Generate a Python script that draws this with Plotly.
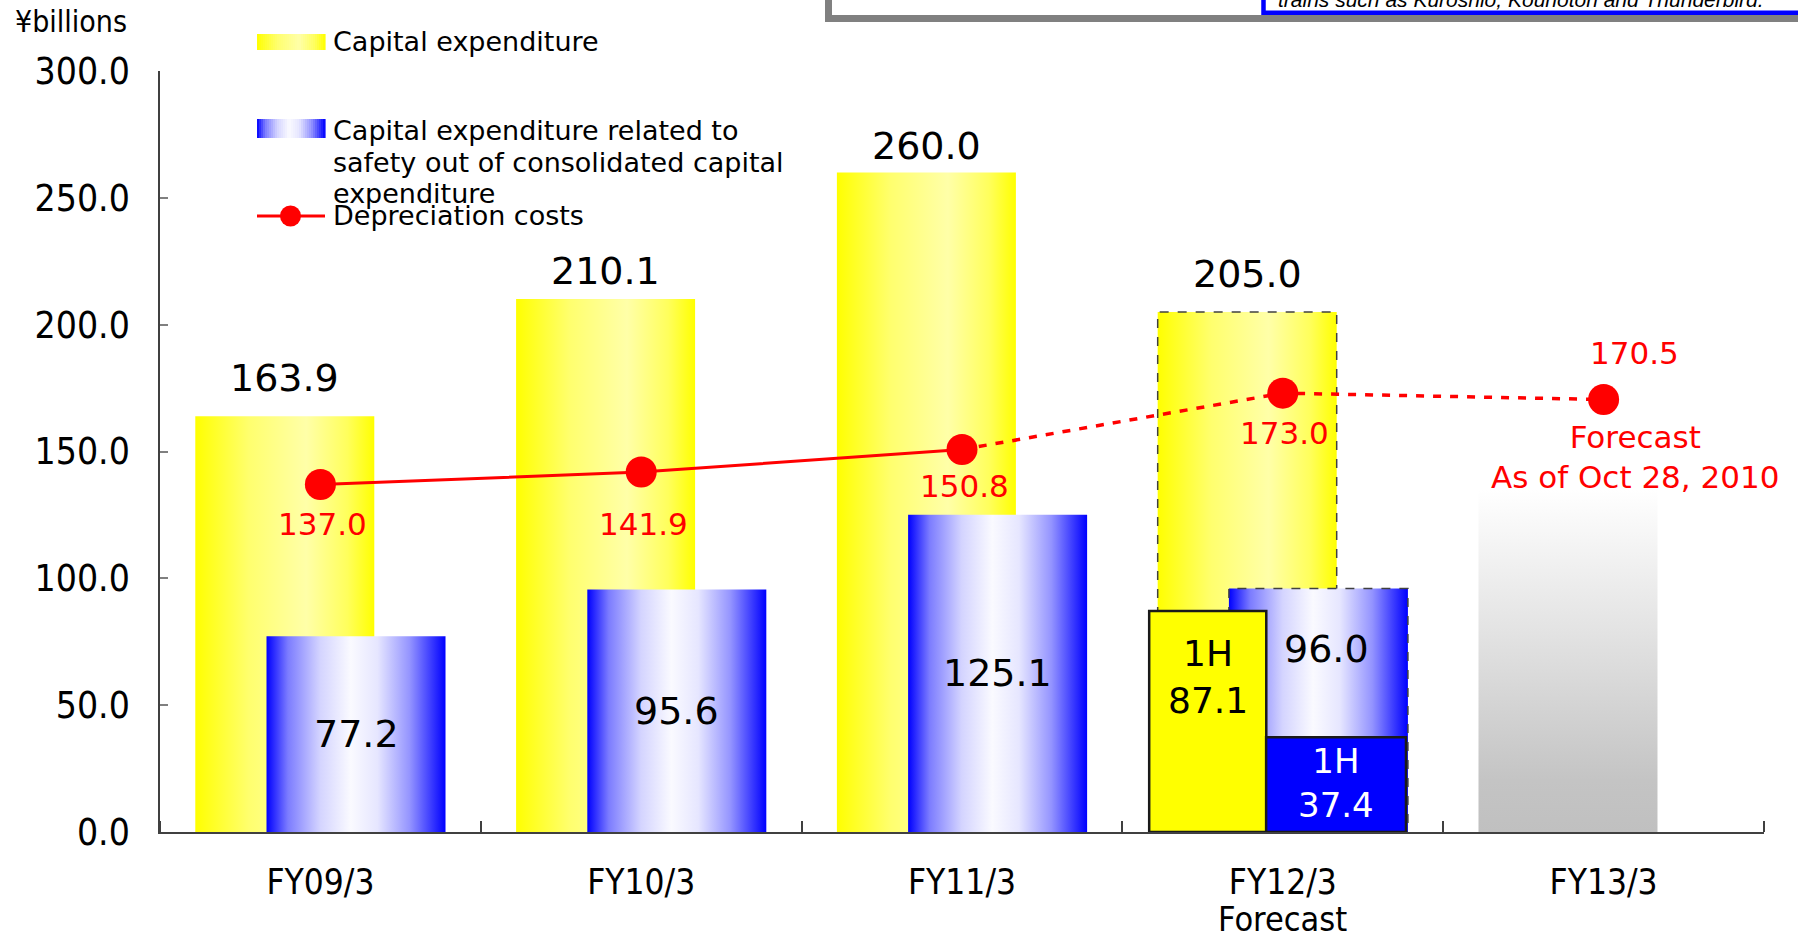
import plotly.graph_objects as go

# ---- data (¥ billions) ----
categories = ["FY09/3", "FY10/3", "FY11/3", "FY12/3", "FY13/3"]
capex = [163.9, 210.1, 260.0, 205.0]
capex_is_forecast = [False, False, False, True]
safety_capex = [77.2, 95.6, 125.1, 96.0]
depreciation = [137.0, 141.9, 150.8, 173.0, 170.5]
capex_1h = 87.1
safety_capex_1h = 37.4
fy13_capex_placeholder = 135.0
y_ticks = [0, 50, 100, 150, 200, 250, 300]

# ---- page geometry ----
W, H = 1798, 938
ML, MR, MT, MB = 160, 34, 71, 106
PW, PH = W - ML - MR, H - MT - MB


def px_x(x):
    return (x - ML) / PW


def px_y(y):
    return (H - MB - y) / PH


BAR_W = 0.558      # bar width in category units
BAR_OFF = 0.111    # yellow / blue offset from the category centre

YELLOW_GRAD = [[0, "#FFFF00"], [0.3, "#FFFF6E"], [0.62, "#FFFFA8"], [0.85, "#FFFF5C"], [1, "#FFFF00"]]
BLUE_GRAD = [[0, "#0000FF"], [0.12, "#7C7CFF"], [0.3, "#D4D4FF"], [0.47, "#FAFAFF"],
             [0.62, "#E6E6FF"], [0.8, "#9494FF"], [1, "#0000FF"]]
GRAY_GRAD = [[0, "#C0C0C0"], [0.15, "#C4C4C4"], [0.6, "#E4E4E4"], [1, "#FFFFFF"]]

VAL_FONT = "DejaVu Sans"
AX_FONT = "DejaVu Sans Condensed, DejaVu Sans"
RED_FONT = "DejaVu Sans"

fig = go.Figure()


def rect(x0, x1, y0, y1):
    return [x0, x0, x1, x1, x0], [y0, y1, y1, y0, y0]


def add_box(xc, width, top, fill=None, gradient=None, line=None):
    xs, ys = rect(xc - width / 2, xc + width / 2, 0, top)
    kw = dict(fillgradient=gradient) if gradient else dict(fillcolor=fill)
    fig.add_trace(go.Scatter(
        x=xs, y=ys, mode="lines", fill="toself",
        line=line or dict(width=0, color="rgba(0,0,0,0)"),
        hoverinfo="skip", showlegend=False, **kw))


dash_line = dict(color="#404040", width=1.5, dash="dash")

# capital expenditure
for i, v in enumerate(capex):
    add_box(i - BAR_OFF, BAR_W, v,
            gradient=dict(type="horizontal", colorscale=YELLOW_GRAD),
            line=dash_line if capex_is_forecast[i] else None)
# FY13 column (no figure yet)
add_box(4 - BAR_OFF, BAR_W, fy13_capex_placeholder,
        gradient=dict(type="vertical", colorscale=GRAY_GRAD))

# safety-related capital expenditure
for i, v in enumerate(safety_capex):
    add_box(i + BAR_OFF, BAR_W, v,
            gradient=dict(type="horizontal", colorscale=BLUE_GRAD),
            line=dash_line if capex_is_forecast[i] else None)

# first-half results for FY12/3
solid_edge = dict(color="#1A1A1A", width=2.5)
add_box(3 - 0.234, 0.365, capex_1h, fill="#FFFF00", line=solid_edge)
add_box(3 + 0.166, 0.436, safety_capex_1h, fill="#0000FF", line=solid_edge)

# depreciation costs: actuals solid, outlook dotted
RED = "#FF0000"
fig.add_trace(go.Scatter(x=[0, 1, 2], y=depreciation[:3], mode="lines",
                         line=dict(color=RED, width=3), hoverinfo="skip", showlegend=False))
fig.add_trace(go.Scatter(x=[2, 3, 4], y=depreciation[2:], mode="lines",
                         line=dict(color=RED, width=3.5, dash="8px,9px"),
                         hoverinfo="skip", showlegend=False))
fig.add_trace(go.Scatter(x=list(range(5)), y=depreciation, mode="markers",
                         marker=dict(color=RED, size=31), hoverinfo="skip", showlegend=False))

ann = []
VAL_SIZE = 38

# labels on the bars
capex_label_shift = [38, 28, 26, 38]
for i, v in enumerate(capex):
    ann.append(dict(x=i - BAR_OFF, y=v, xref="x", yref="y", text=f"{v:.1f}",
                    showarrow=False, yshift=capex_label_shift[i],
                    font=dict(family=VAL_FONT, size=VAL_SIZE, color="black")))
for i, v in enumerate(safety_capex):
    if capex_is_forecast[i]:
        ann.append(dict(x=i + BAR_OFF, y=v, xref="x", yref="y", text=f"{v:.1f}",
                        showarrow=False, yshift=-61, xshift=8,
                        font=dict(family=VAL_FONT, size=VAL_SIZE, color="black")))
    else:
        ann.append(dict(x=i + BAR_OFF, y=v / 2, xref="x", yref="y", text=f"{v:.1f}",
                        showarrow=False,
                        font=dict(family=VAL_FONT, size=VAL_SIZE, color="black")))
ann.append(dict(x=3 - 0.234, y=capex_1h, xref="x", yref="y",
                text=f"1H<br>{capex_1h:.1f}", showarrow=False, yshift=-66,
                font=dict(family=VAL_FONT, size=36, color="black")))
ann.append(dict(x=3 + 0.166, y=safety_capex_1h / 2, xref="x", yref="y",
                text=f"1H<br>{safety_capex_1h:.1f}", showarrow=False, yshift=2,
                font=dict(family=VAL_FONT, size=34, color="white")))

# depreciation labels
dep_label_shift = [-40, -52, -37, -40]
for i, v in enumerate(depreciation[:4]):
    ann.append(dict(x=i, y=v, xref="x", yref="y", text=f"{v:.1f}", showarrow=False,
                    yshift=dep_label_shift[i], xshift=2,
                    font=dict(family=RED_FONT, size=31, color=RED)))
ann.append(dict(x=4, y=depreciation[4], xref="x", yref="y", text=f"{depreciation[4]:.1f}",
                showarrow=False, yshift=47, xshift=31,
                font=dict(family=RED_FONT, size=31, color=RED)))
ann.append(dict(x=4, y=depreciation[4], xref="x", yref="y",
                text="Forecast<br>As of Oct 28, 2010", showarrow=False,
                yshift=-57, xshift=31,
                font=dict(family=RED_FONT, size=31, color=RED)))

# second line under the FY12/3 category label
ann.append(dict(x=3, y=px_y(919), xref="x", yref="paper", text="Forecast",
                showarrow=False, yanchor="middle",
                font=dict(family=AX_FONT, size=34, color="black")))

# unit label
ann.append(dict(x=px_x(13), y=px_y(21), xref="paper", yref="paper", text="¥billions",
                xanchor="left", yanchor="middle", showarrow=False,
                font=dict(family=AX_FONT, size=30, color="black")))

# ---- legend ----
shapes = []


def hex_rgb(h):
    return tuple(int(h[k:k + 2], 16) for k in (1, 3, 5))


def grad_color(stops, t):
    for (t0, c0), (t1, c1) in zip(stops[:-1], stops[1:]):
        if t0 <= t <= t1:
            f = 0 if t1 == t0 else (t - t0) / (t1 - t0)
            a, b = hex_rgb(c0), hex_rgb(c1)
            return "rgb(%d,%d,%d)" % tuple(round(a[k] + (b[k] - a[k]) * f) for k in range(3))
    return stops[-1][1]


def swatch(x0, x1, y0, y1, stops, n=34):
    step = (x1 - x0) / n
    for k in range(n):
        shapes.append(dict(type="rect", xref="paper", yref="paper",
                           x0=px_x(x0 + k * step), x1=px_x(x0 + (k + 1) * step + 0.6),
                           y0=px_y(y1), y1=px_y(y0), line=dict(width=0),
                           fillcolor=grad_color(stops, (k + 0.5) / n)))


swatch(257, 325, 34, 50, YELLOW_GRAD)
swatch(257, 325, 119, 138, BLUE_GRAD)
shapes.append(dict(type="line", xref="paper", yref="paper", x0=px_x(257), x1=px_x(325),
                   y0=px_y(216), y1=px_y(216), line=dict(color=RED, width=3)))
shapes.append(dict(type="circle", xref="paper", yref="paper",
                   x0=px_x(280), x1=px_x(301), y0=px_y(226.5), y1=px_y(205.5),
                   fillcolor=RED, line=dict(width=0)))

leg_font = dict(family=VAL_FONT, size=27, color="black")
legend_rows = [
    ("Capital expenditure", 42),
    ("Capital expenditure related to", 130),
    ("safety out of consolidated capital", 162),
    ("expenditure", 193),
    ("Depreciation costs", 216),
]
for txt, ypx in legend_rows:
    ann.append(dict(x=px_x(331), y=px_y(ypx), xref="paper", yref="paper",
                    text=txt, xanchor="left", yanchor="middle",
                    showarrow=False, font=leg_font))

# ---- note box running off the top edge ----
shapes.append(dict(type="rect", xref="paper", yref="paper", layer="below",
                   x0=px_x(828.5), x1=px_x(1900), y0=px_y(18.5), y1=px_y(-80),
                   fillcolor="white", line=dict(color="#808080", width=7)))
shapes.append(dict(type="rect", xref="paper", yref="paper", layer="below",
                   x0=px_x(1263.5), x1=px_x(1900), y0=px_y(12.8), y1=px_y(-80),
                   fillcolor="white", line=dict(color="#0000FF", width=4.5)))
ann.append(dict(x=px_x(1277), y=px_y(12), xref="paper", yref="paper",
                text="<i>trains such as Kuroshio, Kounotori and Thunderbird.</i>",
                xanchor="left", yanchor="bottom", showarrow=False, borderpad=0,
                font=dict(family="Liberation Sans, Arial", size=21, color="black")))

fig.update_layout(
    width=W, height=H,
    margin=dict(l=ML, r=MR, t=MT, b=MB, autoexpand=False),
    paper_bgcolor="white", plot_bgcolor="white",
    showlegend=False,
    annotations=ann, shapes=shapes,
    xaxis=dict(range=[-0.5, 4.5], tickmode="array", tickvals=list(range(len(categories))),
               ticktext=categories, ticks="", showgrid=False, zeroline=False,
               showline=True, linecolor="#404040", linewidth=2,
               ticklabelstandoff=18,
               tickfont=dict(family=AX_FONT, size=35, color="black"),
               minor=dict(tickmode="linear", tick0=0.5, dtick=1, ticks="inside",
                          ticklen=11, tickwidth=1.5, tickcolor="#404040")),
    yaxis=dict(range=[0, 300], tickmode="array", tickvals=y_ticks, tickformat=".1f",
               ticks="inside", ticklen=8, tickwidth=1.5, tickcolor="#808080",
               showgrid=False, zeroline=False, showline=True, linecolor="#404040",
               linewidth=1.5, ticklabelstandoff=21,
               tickfont=dict(family=AX_FONT, size=37, color="black")),
)

fig.write_html("out.html")
